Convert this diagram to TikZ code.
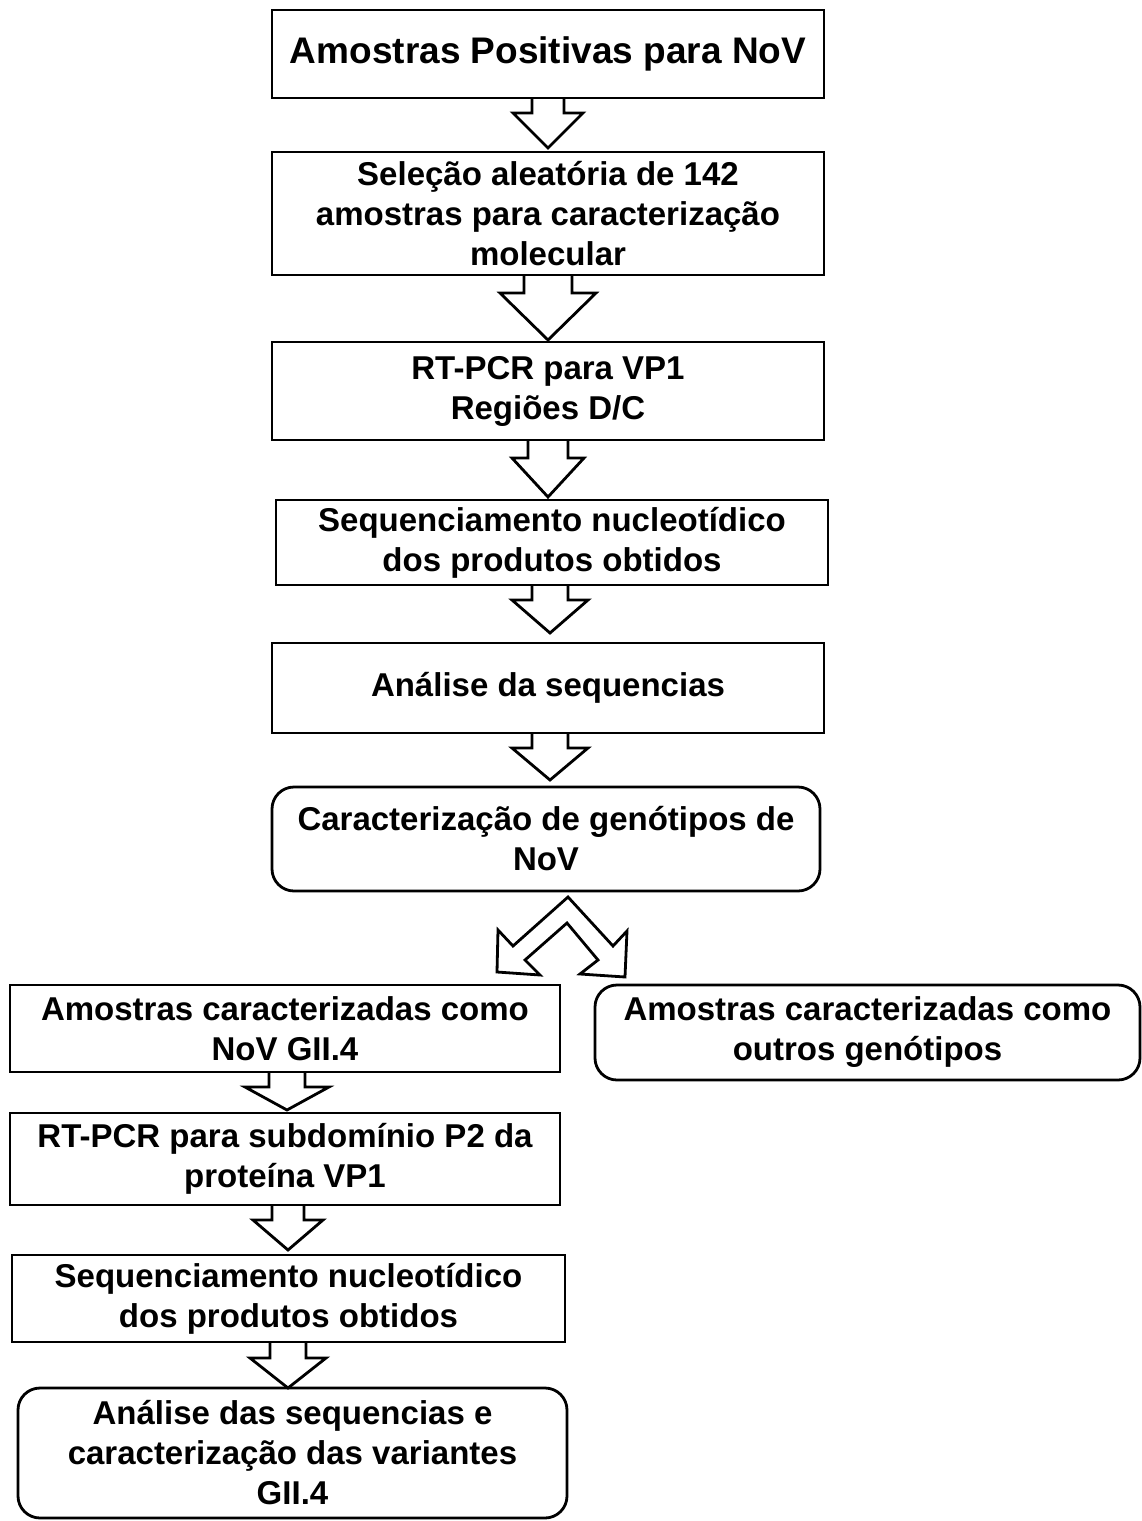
\documentclass[tikz,border=0pt]{standalone}
\usepackage{fontspec}
\setmainfont{Liberation Sans}
\begin{document}
\begin{tikzpicture}[x=1pt,y=-1pt,
  box/.style={draw=black, line width=2.8pt, align=center, inner sep=0pt,
    font=\bfseries\fontsize{33}{40}\selectfont},
  rbox/.style={box, rounded corners=22pt},
  arr/.style={draw=black, line width=2.8pt, line join=miter}]
\useasboundingbox (0,0) rectangle (1141,1521);
\newcommand\blockarr[6]{%
  \draw[arr] ({#1-#5},#2) -- ({#1-#5},#3) -- ({#1-#6},#3) -- (#1,#4)
     -- ({#1+#6},#3) -- ({#1+#5},#3) -- ({#1+#5},#2);}
\node[box, minimum width=552pt, minimum height=88pt, font=\bfseries\fontsize{37}{44}\selectfont] (n1) at (548,54) {Amostras Positivas para NoV};
\node[box, minimum width=552pt, minimum height=123pt] (n2) at (548,213.5) {Seleção aleatória de 142\\amostras para caracterização\\molecular};
\node[box, minimum width=552pt, minimum height=98pt] (n3) at (548,391) {RT-PCR para VP1\\Regiões D/C};
\node[box, minimum width=552pt, minimum height=85pt] (n4) at (552,542.5) {Sequenciamento nucleotídico\\dos produtos obtidos};
\node[box, minimum width=552pt, minimum height=90pt] (n5) at (548,688) {Análise da sequencias};
\node[rbox, minimum width=548pt, minimum height=104pt] (n6) at (546,839) {Caracterização de genótipos de\\NoV};
\node[box, minimum width=550pt, minimum height=87pt] (n7) at (285,1028.5) {Amostras caracterizadas como\\NoV GII.4};
\node[rbox, minimum width=545pt, minimum height=95pt] (n8) at (867.5,1032.5) {Amostras caracterizadas como\\outros genótipos};
\node[box, minimum width=550pt, minimum height=92pt] (n9) at (285,1159) {RT-PCR para subdomínio P2 da\\proteína VP1};
\node[box, minimum width=553pt, minimum height=87pt] (n10) at (288.5,1298.5) {Sequenciamento nucleotídico\\dos produtos obtidos};
\node[rbox, minimum width=549pt, minimum height=130pt] (n11) at (292.5,1453) {Análise das sequencias e\\caracterização das variantes\\GII.4};
\blockarr{548}{98}{113}{148}{16}{35}
\blockarr{548}{275}{293}{340}{24}{48}
\blockarr{548}{440}{458}{497}{20}{36}
\blockarr{550}{585}{600}{633}{18}{38}
\blockarr{550}{733}{748}{780}{18}{38}
\blockarr{287}{1072}{1087}{1110}{18}{42}
\blockarr{288}{1205}{1220}{1250}{16}{35}
\blockarr{288}{1342}{1358}{1388}{18}{38}
\draw[arr] (568,897) -- (613,946) -- (627,931) -- (625,977) -- (580,974) -- (598,960)
  -- (567,923) -- (525,960) -- (540,975) -- (497,972) -- (498,930) -- (513,946) -- cycle;
\end{tikzpicture}
\end{document}
